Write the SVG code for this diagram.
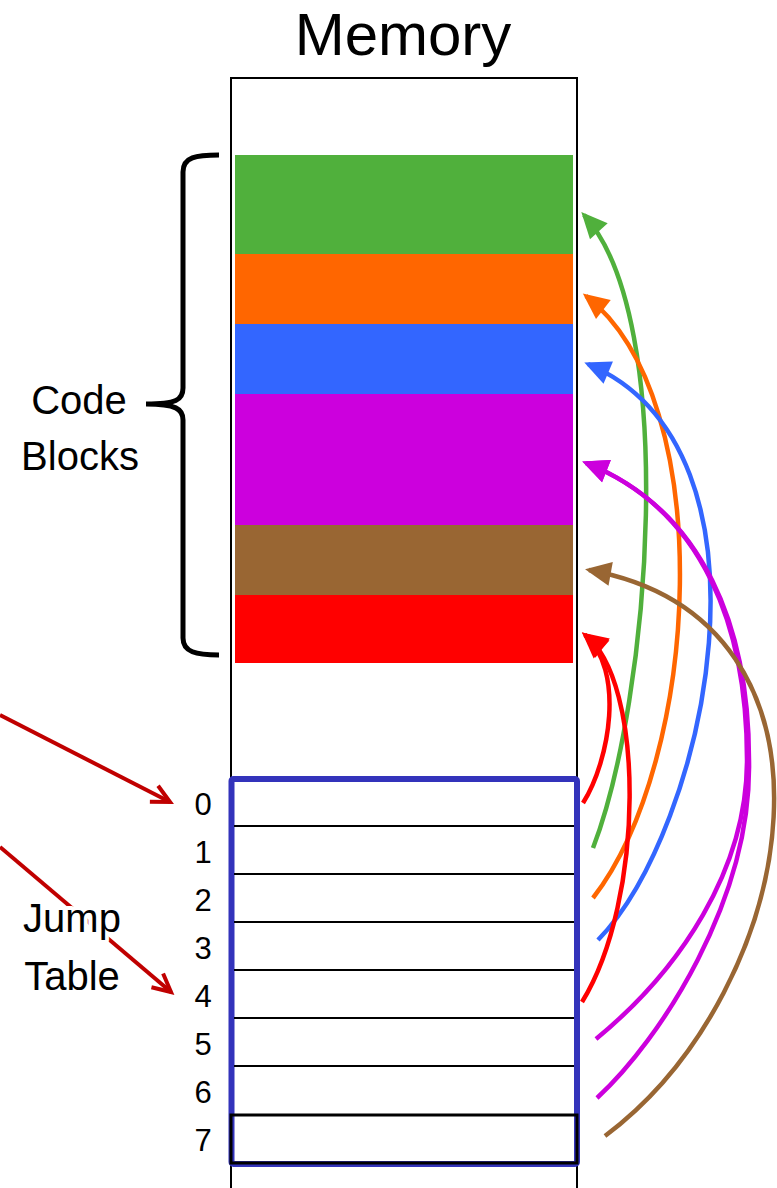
<svg xmlns="http://www.w3.org/2000/svg" width="777" height="1188" viewBox="0 0 777 1188">
<style>
text{font-family:"Liberation Sans",Arial,sans-serif;fill:#000}
.title{font-size:60px;text-anchor:middle}
.lbl{font-size:40px;text-anchor:middle}
.num{font-size:31px;text-anchor:middle}
.frame{stroke:#000;stroke-width:2;fill:none}
.row{stroke:#000;stroke-width:2}
.arc{fill:none;stroke-width:4.5}
.ptr{fill:none;stroke:#C00000;stroke-width:4}
.halo{stroke:#fff;stroke-width:8;paint-order:stroke;stroke-linejoin:round}
</style>
<defs>
<marker id="mg" markerUnits="userSpaceOnUse" markerWidth="30" markerHeight="30" refX="22" refY="12" orient="auto" overflow="visible"><path d="M0,0 L26,12 L0,24 Z" fill="#50B03C"/></marker>
<marker id="mo" markerUnits="userSpaceOnUse" markerWidth="30" markerHeight="30" refX="22" refY="12" orient="auto" overflow="visible"><path d="M0,0 L26,12 L0,24 Z" fill="#FF6600"/></marker>
<marker id="mb" markerUnits="userSpaceOnUse" markerWidth="30" markerHeight="30" refX="22" refY="12" orient="auto" overflow="visible"><path d="M0,0 L26,12 L0,24 Z" fill="#3366FF"/></marker>
<marker id="mp" markerUnits="userSpaceOnUse" markerWidth="30" markerHeight="30" refX="22" refY="12" orient="auto" overflow="visible"><path d="M0,0 L26,12 L0,24 Z" fill="#CC00DD"/></marker>
<marker id="mn" markerUnits="userSpaceOnUse" markerWidth="30" markerHeight="30" refX="22" refY="12" orient="auto" overflow="visible"><path d="M0,0 L26,12 L0,24 Z" fill="#996633"/></marker>
<marker id="mr" markerUnits="userSpaceOnUse" markerWidth="30" markerHeight="30" refX="22" refY="12" orient="auto" overflow="visible"><path d="M0,0 L26,12 L0,24 Z" fill="#FF0000"/></marker>
<marker id="mv" markerUnits="userSpaceOnUse" markerWidth="30" markerHeight="30" refX="0" refY="0" orient="auto" overflow="visible"><path d="M-18,-9 L0,0 L-18,9" fill="none" stroke="#C00000" stroke-width="4"/></marker>
</defs>
<rect width="777" height="1188" fill="#fff"/>

<g id="memory">
<text class="title" x="403" y="55">Memory</text>
<path class="frame" d="M231,78 V1188 M577,78 V1188 M230,78 H578"/>
</g>

<g id="code-blocks">
<rect x="235" y="155" width="338" height="99" fill="#50B03C"/>
<rect x="235" y="254" width="338" height="70" fill="#FF6600"/>
<rect x="235" y="324" width="338" height="70" fill="#3366FF"/>
<rect x="235" y="394" width="338" height="131" fill="#CC00DD"/>
<rect x="235" y="525" width="338" height="70" fill="#996633"/>
<rect x="235" y="595" width="338" height="68" fill="#FF0000"/>
</g>

<g id="brace">
<path d="M219,155 C196,155 183,157 183,172 L183,388 C183,400 176,404 146,404 C176,404 183,409 183,420 L183,638 C183,652 196,655 219,655" fill="none" stroke="#000" stroke-width="5"/>
<text class="lbl" x="79" y="414">Code</text>
<text class="lbl" x="80" y="470">Blocks</text>
</g>

<g id="jump-table">
<rect x="231.5" y="779" width="345.5" height="385" rx="2" fill="#fff" stroke="#3333BB" stroke-width="6"/>
<path class="row" d="M234,826 H574 M234,874 H574 M234,922 H574 M234,970 H574 M234,1018 H574 M234,1066 H574"/>
<rect x="231" y="1115" width="346" height="48" fill="none" stroke="#000" stroke-width="3"/>
<text class="num" x="203" y="815">0</text>
<text class="num" x="203" y="863">1</text>
<text class="num" x="203" y="911">2</text>
<text class="num" x="203" y="959">3</text>
<text class="num" x="203" y="1007">4</text>
<text class="num" x="203" y="1055">5</text>
<text class="num" x="203" y="1103">6</text>
<text class="num" x="203" y="1151">7</text>
</g>

<g id="connectors">
<path class="ptr" d="M0,715 L170,802" marker-end="url(#mv)"/>
<path class="ptr" d="M0,847 L171,992" marker-end="url(#mv)"/>
<path class="arc" stroke="#50B03C" d="M593,848 C650,700 680,320 584,215" marker-end="url(#mg)"/>
<path class="arc" stroke="#FF6600" d="M593,898 C700,760 720,400 586,296" marker-end="url(#mo)"/>
<path class="arc" stroke="#3366FF" d="M598,940 C705,830 790,450 588,364" marker-end="url(#mb)"/>
<path class="arc" stroke="#CC00DD" d="M596,1039 C680,970 747,870 747,760 C747,630 705,510 586,463" marker-end="url(#mp)"/>
<path class="arc" stroke="#CC00DD" d="M597,1098 C660,1040 752,900 749,760 C749,630 705,510 586,463" marker-end="url(#mp)"/>
<path class="arc" stroke="#996633" d="M605,1136 C800,990 865,620 589,570" marker-end="url(#mn)"/>
<path class="arc" stroke="#FF0000" d="M583,803 C610,760 625,670 585,635" marker-end="url(#mr)"/>
<path class="arc" stroke="#FF0000" d="M582,1002 C645,900 645,680 585,635" marker-end="url(#mr)"/>
</g>

<g id="jump-label">
<text class="lbl halo" x="72" y="932">Jump</text>
<text class="lbl halo" x="72" y="990">Table</text>
</g>
</svg>
